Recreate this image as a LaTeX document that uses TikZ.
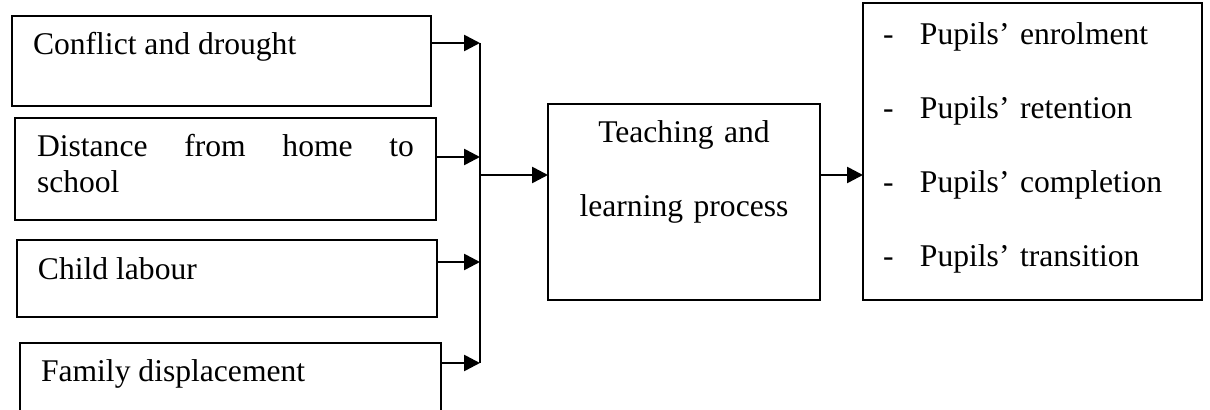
\documentclass[tikz,border=0pt]{standalone}
\usepackage{fontspec}
\setmainfont{Liberation Serif}
\usetikzlibrary{arrows.meta}

\begin{document}
\begin{tikzpicture}
  [x=0.5pt,y=-0.5pt,
   every node/.style={draw,line width=0.9pt,inner ysep=0pt,outer sep=0pt,anchor=north west,
     font=\fontsize{15.8}{18}\selectfont},
   factor/.style={align=justify,inner xsep=10.5pt},
   listbox/.style={align=left,font=\fontsize{15.8}{37}\selectfont},
   pointer/.style={line width=1.3pt,-{Triangle[length=8pt,width=8pt]}}]
  \useasboundingbox (0,0) rectangle (1210,410);

  % left column
  \node[factor,text width=188.5pt,text height=19.5pt,text depth=25.5pt] (conflict) at (12,16)
    {Conflict and drought};
  \node[factor,inner xsep=11pt,text width=188.5pt,text height=19.5pt,text depth=31.5pt] (distance) at (15,118)
    {Distance from home to\linebreak school};
  \node[factor,text width=189pt,text height=20pt,text depth=18.5pt] (labour) at (17,240)
    {Child labour};
  \node[factor,text width=189.5pt,text height=19.5pt,text depth=21.5pt] (displacement) at (20,343)
    {Family displacement};

  % middle and right
  \node[listbox,align=center,inner xsep=0pt,text width=136pt,text height=19.5pt,text depth=78.5pt] (process) at (548,104)
    {Teaching and\\learning process};
  \node[listbox,inner xsep=10pt,text width=149.5pt,text height=21pt,text depth=127.5pt] (outcomes) at (863,3)
    {\makebox[18.5pt][l]{-}Pupils’ enrolment\\
     \makebox[18.5pt][l]{-}Pupils’ retention\\
     \makebox[18.5pt][l]{-}Pupils’ completion\\
     \makebox[18.5pt][l]{-}Pupils’ transition};

  \coordinate (j1) at (480,43);
  \coordinate (j2) at (480,157);
  \coordinate (j3) at (480,262);
  \coordinate (j4) at (480,363);
  \coordinate (hub) at (480,175);

  \draw[line width=1pt] (j1) -- (j4);
  \foreach \src/\dst in {conflict/j1,distance/j2,labour/j3,displacement/j4}
    \draw[pointer] (\src.east |- \dst) -- (\dst);
  \draw[pointer] (hub) -- (hub -| process.west);
  \draw[pointer] (process.east |- hub) -- (hub -| outcomes.west);
\end{tikzpicture}
\end{document}
